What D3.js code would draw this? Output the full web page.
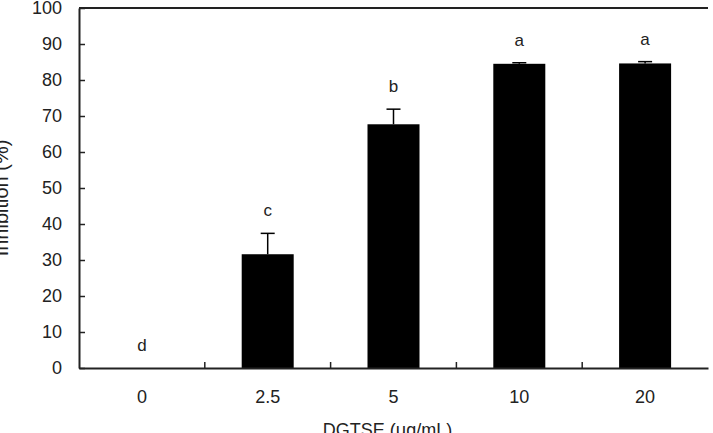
<!DOCTYPE html>
<html>
<head>
<meta charset="utf-8">
<script src="https://cdn.jsdelivr.net/npm/d3@7"></script>
<style>
  body { margin: 0; background: #fff; }
  svg text { font-family: "Liberation Sans", Arial, sans-serif; fill: #222; }
</style>
</head>
<body>
<script>
// data
var doses = ["0", "2.5", "5", "10", "20"];
var inhibition = [0, 31.6, 67.7, 84.5, 84.6];
var sd = [0, 5.8, 4.2, 0.3, 0.5];
var letters = ["d", "c", "b", "a", "a"];
var yTicks = [0, 10, 20, 30, 40, 50, 60, 70, 80, 90, 100];

var margin = {top: 8, right: 5, bottom: 65, left: 79},
    width = 713 - margin.left - margin.right,
    height = 433 - margin.top - margin.bottom;

var svg = d3.select("body")
  .append("svg")
    .attr("width", 713)
    .attr("height", 433)
  .append("g")
    .attr("transform", "translate(" + margin.left + "," + margin.top + ")");

var x = d3.scaleBand()
  .domain(doses)
  .range([0, width])
  .padding(0);

var y = d3.scaleLinear()
  .domain([0, 100])
  .range([height, 0]);

var barW = 52;

// bars
svg.selectAll(".bar")
  .data(doses)
  .enter()
  .append("rect")
    .attr("x", function(d) { return x(d) + x.bandwidth() / 2 - barW / 2; })
    .attr("y", function(d, i) { return y(inhibition[i]); })
    .attr("width", barW)
    .attr("height", function(d, i) { return height - y(inhibition[i]); })
    .attr("fill", "#000");

// error bars (upper only)
var err = svg.selectAll(".err")
  .data(doses)
  .enter()
  .append("g")
  .filter(function(d, i) { return inhibition[i] > 0; });
err.append("line")
  .attr("x1", function(d) { return x(d) + x.bandwidth() / 2; })
  .attr("x2", function(d) { return x(d) + x.bandwidth() / 2; })
  .attr("y1", function(d) { var i = doses.indexOf(d); return y(inhibition[i]); })
  .attr("y2", function(d) { var i = doses.indexOf(d); return y(inhibition[i] + sd[i]); })
  .attr("stroke", "#000").attr("stroke-width", 1.5);
err.append("line")
  .attr("x1", function(d) { return x(d) + x.bandwidth() / 2 - 7; })
  .attr("x2", function(d) { return x(d) + x.bandwidth() / 2 + 7; })
  .attr("y1", function(d) { var i = doses.indexOf(d); return y(inhibition[i] + sd[i]); })
  .attr("y2", function(d) { var i = doses.indexOf(d); return y(inhibition[i] + sd[i]); })
  .attr("stroke", "#000").attr("stroke-width", 1.5);

// significance letters
svg.selectAll(".sig")
  .data(doses)
  .enter()
  .append("text")
    .attr("x", function(d) { return x(d) + x.bandwidth() / 2; })
    .attr("y", function(d, i) { return y(inhibition[i] + sd[i]) - 17; })
    .attr("text-anchor", "middle")
    .style("font-size", "17px")
    .text(function(d, i) { return letters[i]; });

// Y axis
var yAxis = svg.append("g")
  .call(d3.axisLeft(y).tickValues(yTicks).tickSizeInner(-6).tickSizeOuter(0).tickPadding(17));
yAxis.select(".domain").attr("stroke", "#222").attr("stroke-width", 2);
yAxis.selectAll(".tick line").attr("stroke", "#222").attr("stroke-width", 1.5);
yAxis.selectAll("text").style("font-size", "18px").attr("fill", "#222");

// X axis: ticks at category boundaries, pointing up
var xAxis = svg.append("g")
  .attr("transform", "translate(0," + height + ")")
  .call(d3.axisBottom(x).tickSize(0).tickPadding(22));
xAxis.select(".domain").attr("stroke", "#222").attr("stroke-width", 2);
xAxis.selectAll("text").style("font-size", "18px").attr("fill", "#222");
svg.selectAll(".xsep")
  .data(doses.slice(1))
  .enter()
  .append("line")
    .attr("x1", function(d) { return x(d); })
    .attr("x2", function(d) { return x(d); })
    .attr("y1", height)
    .attr("y2", height - 6)
    .attr("stroke", "#222").attr("stroke-width", 1.5);

// top border
svg.append("line")
  .attr("x1", 0).attr("x2", width)
  .attr("y1", 0).attr("y2", 0)
  .attr("stroke", "#222").attr("stroke-width", 2);

// axis titles (partly outside the picture, as in the original)
svg.append("text")
  .attr("x", width / 2 - 6)
  .attr("y", height + 68)
  .attr("text-anchor", "middle")
  .style("font-size", "18px")
  .text("DGTSE (μg/mL)");

svg.append("text")
  .attr("transform", "translate(" + (8 - margin.left) + "," + (height / 2 + 10) + ")rotate(-90)")
  .attr("text-anchor", "middle")
  .style("font-size", "20px")
  .text("Inhibition (%)");
</script>
</body>
</html>
